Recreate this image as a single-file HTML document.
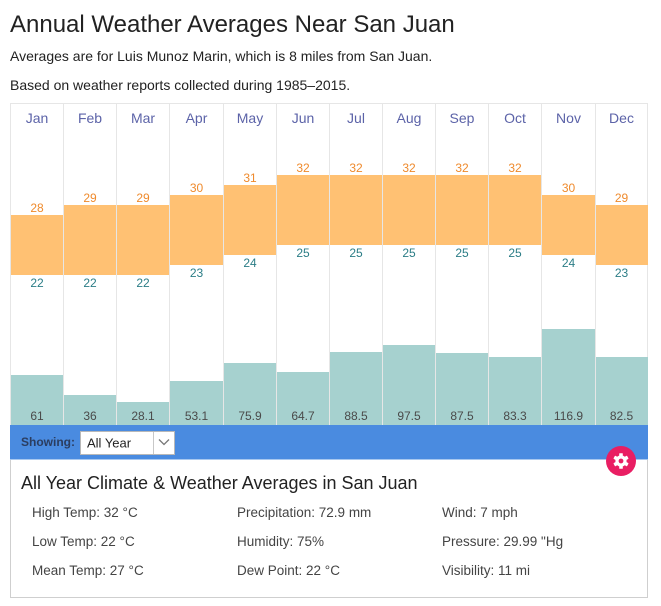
<!DOCTYPE html>
<html><head><meta charset="utf-8">
<style>
html,body{margin:0;padding:0;background:#fff;}
svg{display:block;font-family:"Liberation Sans",Arial,sans-serif;}
</style></head>
<body>
<svg width="661" height="606" viewBox="0 0 661 606" xmlns="http://www.w3.org/2000/svg">
<text x="10" y="32" font-size="24" fill="#222">Annual Weather Averages Near San Juan</text>
<text x="10" y="61" font-size="14" fill="#222">Averages are for Luis Munoz Marin, which is 8 miles from San Juan.</text>
<text x="10" y="90" font-size="14" fill="#222">Based on weather reports collected during 1985–2015.</text>

<!-- chart frame -->
<line x1="10" y1="103.5" x2="648" y2="103.5" stroke="#e6e6e6"/>
<g stroke="#e6e6e6" stroke-width="1">
<line x1="10.5" y1="103" x2="10.5" y2="425"/>
<line x1="63.5" y1="103" x2="63.5" y2="425"/>
<line x1="116.5" y1="103" x2="116.5" y2="425"/>
<line x1="169.5" y1="103" x2="169.5" y2="425"/>
<line x1="223.5" y1="103" x2="223.5" y2="425"/>
<line x1="276.5" y1="103" x2="276.5" y2="425"/>
<line x1="329.5" y1="103" x2="329.5" y2="425"/>
<line x1="382.5" y1="103" x2="382.5" y2="425"/>
<line x1="435.5" y1="103" x2="435.5" y2="425"/>
<line x1="488.5" y1="103" x2="488.5" y2="425"/>
<line x1="541.5" y1="103" x2="541.5" y2="425"/>
<line x1="595.5" y1="103" x2="595.5" y2="425"/>
<line x1="647.5" y1="103" x2="647.5" y2="425"/>
</g>

<!-- months -->
<g font-size="14" fill="#5c63a8" text-anchor="middle">
<text x="37" y="123">Jan</text>
<text x="90" y="123">Feb</text>
<text x="143" y="123">Mar</text>
<text x="196.5" y="123">Apr</text>
<text x="250" y="123">May</text>
<text x="303" y="123">Jun</text>
<text x="356" y="123">Jul</text>
<text x="409" y="123">Aug</text>
<text x="462" y="123">Sep</text>
<text x="515" y="123">Oct</text>
<text x="568.5" y="123">Nov</text>
<text x="621.5" y="123">Dec</text>
</g>

<!-- temperature bars y=495-10T -->
<g fill="#ffc173">
<rect x="11" y="215" width="52" height="60"/>
<rect x="64" y="205" width="52" height="70"/>
<rect x="117" y="205" width="52" height="70"/>
<rect x="170" y="195" width="53" height="70"/>
<rect x="224" y="185" width="52" height="70"/>
<rect x="277" y="175" width="52" height="70"/>
<rect x="330" y="175" width="52" height="70"/>
<rect x="383" y="175" width="52" height="70"/>
<rect x="436" y="175" width="52" height="70"/>
<rect x="489" y="175" width="52" height="70"/>
<rect x="542" y="195" width="53" height="60"/>
<rect x="596" y="205" width="52" height="60"/>
</g>
<g font-size="12" fill="#ef8a2c" text-anchor="middle">
<text x="37" y="212">28</text>
<text x="90" y="202">29</text>
<text x="143" y="202">29</text>
<text x="196.5" y="192">30</text>
<text x="250" y="182">31</text>
<text x="303" y="172">32</text>
<text x="356" y="172">32</text>
<text x="409" y="172">32</text>
<text x="462" y="172">32</text>
<text x="515" y="172">32</text>
<text x="568.5" y="192">30</text>
<text x="621.5" y="202">29</text>
</g>
<g font-size="12" fill="#2b7d86" text-anchor="middle">
<text x="37" y="287">22</text>
<text x="90" y="287">22</text>
<text x="143" y="287">22</text>
<text x="196.5" y="277">23</text>
<text x="250" y="267">24</text>
<text x="303" y="257">25</text>
<text x="356" y="257">25</text>
<text x="409" y="257">25</text>
<text x="462" y="257">25</text>
<text x="515" y="257">25</text>
<text x="568.5" y="267">24</text>
<text x="621.5" y="277">23</text>
</g>

<!-- precip bars bottom 425, 0.8px/mm -->
<g fill="#a6d1cf">
<rect x="11" y="375" width="52" height="50"/>
<rect x="64" y="395" width="52" height="30"/>
<rect x="117" y="402" width="52" height="23"/>
<rect x="170" y="381" width="53" height="44"/>
<rect x="224" y="363" width="52" height="62"/>
<rect x="277" y="372" width="52" height="53"/>
<rect x="330" y="352" width="52" height="73"/>
<rect x="383" y="345" width="52" height="80"/>
<rect x="436" y="353" width="52" height="72"/>
<rect x="489" y="357" width="52" height="68"/>
<rect x="542" y="329" width="53" height="96"/>
<rect x="596" y="357" width="52" height="68"/>
</g>
<g font-size="12" fill="#4a4a4a" text-anchor="middle">
<text x="37" y="420">61</text>
<text x="90" y="420">36</text>
<text x="143" y="420">28.1</text>
<text x="196.5" y="420">53.1</text>
<text x="250" y="420">75.9</text>
<text x="303" y="420">64.7</text>
<text x="356" y="420">88.5</text>
<text x="409" y="420">97.5</text>
<text x="462" y="420">87.5</text>
<text x="515" y="420">83.3</text>
<text x="568.5" y="420">116.9</text>
<text x="621.5" y="420">82.5</text>
</g>

<!-- bottom box -->
<rect x="10.5" y="459.5" width="637" height="138" fill="#fff" stroke="#cfcfcf"/>

<!-- blue bar -->
<rect x="10" y="425" width="638" height="34" fill="#4a8be0"/>
<line x1="10" y1="459.5" x2="648" y2="459.5" stroke="#a9c8ef"/>
<text x="21" y="446" font-size="12" font-weight="bold" fill="#2b3d60">Showing:</text>
<rect x="80.5" y="431.5" width="94" height="23" fill="#fff" stroke="#b8b8b8"/>
<line x1="153.5" y1="432" x2="153.5" y2="454" stroke="#c8c8c8"/>
<text x="87" y="447.5" font-size="13" fill="#222">All Year</text>
<polyline points="159,439.5 164,444.5 169,439.5" fill="none" stroke="#777" stroke-width="1.3"/>

<!-- gear -->
<circle cx="621" cy="461" r="15" fill="#e91e63"/>
<g fill="#fff" transform="translate(621 461)">
<circle r="5.6"/>
<rect x="-1.8" y="-7.8" width="3.6" height="15.6" rx="0.6"/>
<rect x="-1.8" y="-7.8" width="3.6" height="15.6" rx="0.6" transform="rotate(60)"/>
<rect x="-1.8" y="-7.8" width="3.6" height="15.6" rx="0.6" transform="rotate(120)"/>
</g>
<circle cx="621" cy="461" r="2.4" fill="#e91e63"/>

<text x="21" y="489" font-size="18" fill="#222">All Year Climate &amp; Weather Averages in San Juan</text>
<g font-size="13.5" fill="#444">
<text x="32" y="517">High Temp: 32 °C</text>
<text x="32" y="546">Low Temp: 22 °C</text>
<text x="32" y="575">Mean Temp: 27 °C</text>
<text x="237" y="517">Precipitation: 72.9 mm</text>
<text x="237" y="546">Humidity: 75%</text>
<text x="237" y="575">Dew Point: 22 °C</text>
<text x="442" y="517">Wind: 7 mph</text>
<text x="442" y="546">Pressure: 29.99 "Hg</text>
<text x="442" y="575">Visibility: 11 mi</text>
</g>
</svg>
</body></html>
